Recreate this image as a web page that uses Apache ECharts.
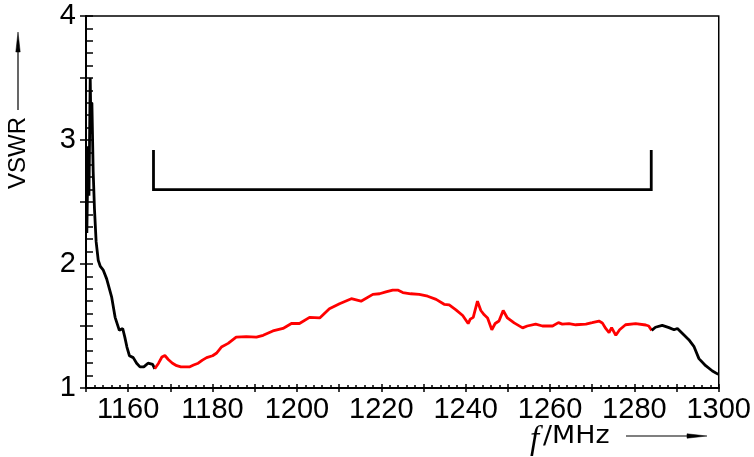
<!DOCTYPE html>
<html>
<head>
<meta charset="utf-8">
<script src="https://cdn.jsdelivr.net/npm/echarts@6/dist/echarts.min.js"></script>
<style>html,body{margin:0;padding:0;background:#fff}#c{width:754px;height:457px}</style>
</head>
<body>
<div id="c"></div>
<script>
// Frequency (MHz) and VSWR values
var freqLow = [1150.2,1150.5,1150.7,1151.0,1151.2,1151.4,1151.7,1152.0,1152.4,1152.9,1153.4,1154.1,1154.9,1156.1,1156.9,1157.9,1158.7,1159.2,1159.7,1160.3,1161.2,1162.0,1162.8,1163.7,1164.7,1165.8,1166.3];
var vswrLow = [2.25,2.95,2.55,3.50,3.05,3.30,2.75,2.45,2.18,2.03,1.98,1.95,1.88,1.73,1.57,1.465,1.48,1.41,1.33,1.26,1.245,1.20,1.17,1.17,1.20,1.19,1.155];

var freqBand = [1166.3,1167.2,1168.0,1168.7,1169.5,1170.5,1171.5,1172.5,1174.5,1175.5,1176.6,1177.6,1178.6,1180.0,1180.9,1182.1,1183.7,1185.6,1188.0,1190.4,1192.0,1194.3,1196.7,1198.7,1200.6,1203.0,1205.4,1207.7,1210.1,1212.9,1215.2,1218.0,1219.6,1221.1,1222.7,1223.9,1225.1,1227.0,1229.0,1231.0,1233.0,1234.9,1236.1,1237.7,1239.3,1240.6,1241.1,1241.8,1242.8,1243.6,1244.4,1245.2,1246.2,1247.0,1247.9,1248.9,1249.9,1251.5,1253.5,1254.6,1256.6,1258.2,1260.6,1262.0,1262.9,1264.5,1266.1,1268.5,1270.0,1271.6,1272.4,1273.2,1274.0,1274.6,1275.6,1276.5,1277.9,1280.3,1282.7,1283.4,1284.1];
var vswrBand = [1.155,1.20,1.25,1.262,1.23,1.20,1.18,1.17,1.17,1.185,1.20,1.225,1.245,1.26,1.28,1.33,1.36,1.41,1.415,1.41,1.425,1.46,1.48,1.52,1.52,1.57,1.565,1.64,1.68,1.72,1.70,1.755,1.76,1.775,1.79,1.79,1.77,1.76,1.755,1.74,1.715,1.675,1.67,1.63,1.585,1.52,1.555,1.57,1.70,1.625,1.59,1.565,1.47,1.52,1.54,1.625,1.565,1.525,1.485,1.50,1.515,1.50,1.50,1.527,1.515,1.52,1.51,1.515,1.527,1.54,1.525,1.48,1.447,1.487,1.425,1.47,1.51,1.52,1.508,1.50,1.465];

var freqHigh = [1284.1,1285.0,1286.6,1288.2,1289.4,1290.2,1291.4,1292.9,1294.1,1295.3,1296.9,1298.5,1299.9];
var vswrHigh = [1.465,1.49,1.505,1.487,1.47,1.48,1.44,1.39,1.336,1.237,1.18,1.137,1.11];

// Bandwidth bracket
var bracketFreq = [1166,1166,1284,1284];
var bracketVswr = [2.92,2.6,2.6,2.92];

// Axis ticks
var xTickLabels = [1160,1180,1200,1220,1240,1260,1280,1300];
var yTickLabels = [1,2,3,4];

function pairs(xs, ys){ return xs.map(function(x,i){ return [x, ys[i]]; }); }

var tickFont = '"Liberation Sans Narrow", "Liberation Sans", sans-serif';

var chart = echarts.init(document.getElementById('c'), null, {renderer:'canvas'});
chart.setOption({
  animation:false,
  backgroundColor:'#fff',
  grid:{left:86, right:34, top:16, bottom:69, show:true, borderColor:'#000', borderWidth:1.5, containLabel:false},
  xAxis:[{
    type:'value', min:1150, max:1300, interval:10,
    axisLine:{show:true, onZero:false, lineStyle:{color:'#000', width:2}},
    axisTick:{show:true, inside:false, length:4, lineStyle:{color:'#000', width:1.5}},
    axisLabel:{show:true, margin:7, color:'#000', fontSize:29, fontFamily:tickFont,
      formatter:function(v){ return xTickLabels.indexOf(v) >= 0 ? String(v) : ''; }},
    splitLine:{show:false}
  },{
    type:'value', min:1150, max:1300, interval:10, position:'bottom',
    axisLine:{show:false, onZero:false},
    axisTick:{show:true, inside:true, length:4, lineStyle:{color:'#000', width:1.5}},
    minorTick:{show:true, splitNumber:5, length:3, lineStyle:{color:'#000', width:1.5}},
    axisLabel:{show:false}, splitLine:{show:false}
  }],
  yAxis:[{
    type:'value', min:1, max:4, interval:0.5,
    axisLine:{show:true, onZero:false, lineStyle:{color:'#000', width:2}},
    axisTick:{show:true, inside:false, length:6, lineStyle:{color:'#000', width:1.5}},
    axisLabel:{show:true, margin:10, color:'#000', fontSize:29, fontFamily:tickFont,
      formatter:function(v){ return yTickLabels.indexOf(v) >= 0 ? String(v) : ''; }},
    splitLine:{show:false}
  },{
    type:'value', min:1, max:4, interval:0.5, position:'left',
    axisLine:{show:false, onZero:false},
    axisTick:{show:true, inside:true, length:7, lineStyle:{color:'#000', width:1.5}},
    minorTick:{show:true, splitNumber:5, length:7, lineStyle:{color:'#000', width:1.5}},
    axisLabel:{show:false}, splitLine:{show:false}
  }],
  series:[
    {type:'line', name:'low', data:pairs(freqLow, vswrLow), showSymbol:false, symbol:'none', lineStyle:{color:'#000', width:2.8}, z:3},
    {type:'line', name:'band', data:pairs(freqBand, vswrBand), showSymbol:false, symbol:'none', lineStyle:{color:'#ff0000', width:2.8}, z:3},
    {type:'line', name:'high', data:pairs(freqHigh, vswrHigh), showSymbol:false, symbol:'none', lineStyle:{color:'#000', width:2.8}, z:3},
    {type:'line', name:'bracket', data:pairs(bracketFreq, bracketVswr), showSymbol:false, symbol:'none', lineStyle:{color:'#000', width:2.8, join:'miter'}, z:3}
  ],
  graphic:[
    {type:'text', x:18, y:153, rotation:Math.PI/2, style:{text:'VSWR', fill:'#000', font:'24px "Liberation Sans", sans-serif', align:'center', verticalAlign:'middle'}},
    {type:'line', shape:{x1:18, y1:110, x2:18, y2:44}, style:{stroke:'#000', lineWidth:1.2}},
    {type:'polygon', shape:{points:[[18,32],[15.8,52],[20.2,52]]}, style:{fill:'#000', stroke:'#000', lineWidth:0.5}},
    {type:'text', x:530, y:440, style:{text:'f', fill:'#000', font:'italic 33px "Liberation Serif", serif', align:'left', verticalAlign:'middle'}},
    {type:'text', x:543, y:437, scaleX:1.12, style:{text:'/MHz', fill:'#000', font:'24px "DejaVu Sans", sans-serif', align:'left', verticalAlign:'middle'}},
    {type:'line', shape:{x1:626, y1:436, x2:696, y2:436}, style:{stroke:'#000', lineWidth:1.2}},
    {type:'polygon', shape:{points:[[707,436],[687,433.8],[687,438.2]]}, style:{fill:'#000', stroke:'#000', lineWidth:0.5}}
  ]
});
</script>
</body>
</html>
